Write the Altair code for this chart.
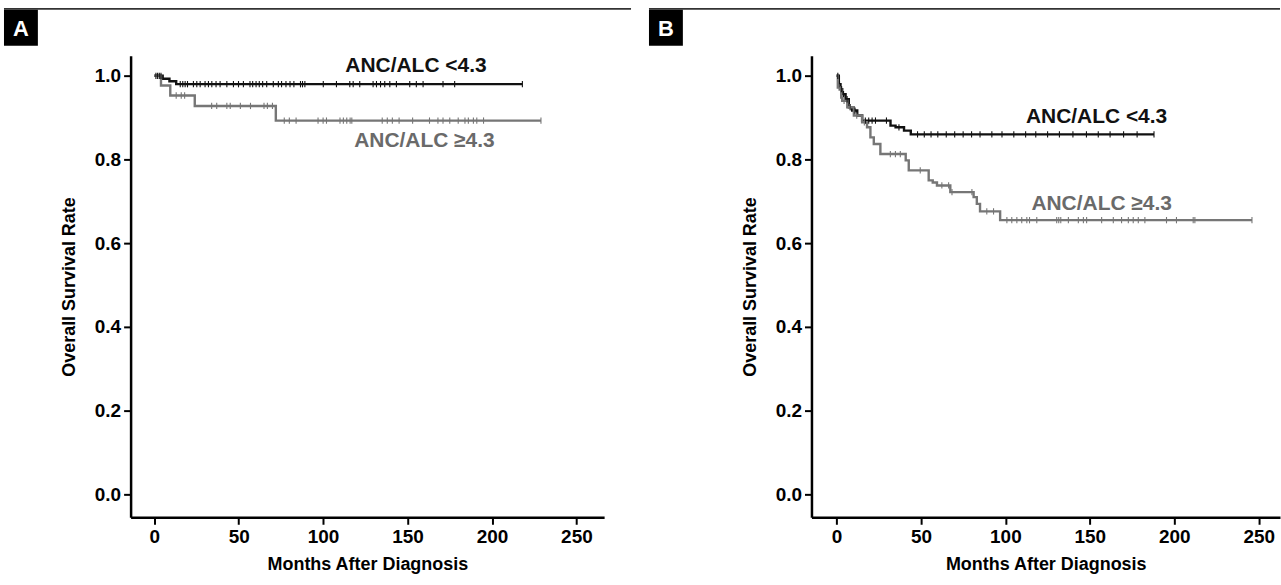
import bisect
import altair as alt
import pandas as pd

FONT = "Liberation Sans"
BLACK = "#111111"
GREY = "#767676"

# ---------------- Panel A ----------------
a_low_times = [0, 5, 9, 13]
a_low_surv = [1.0, 0.993, 0.987, 0.98]
a_low_end = 218
a_low_cens = [1, 2, 3, 4, 15.4, 16.9, 18.3, 19.7, 23.2, 25.2, 27.2, 30.1, 32.1, 34.1,
              36.6, 39.0, 43.0, 46.9, 49.9, 52.8, 56.7, 58.3, 60.3, 62.2, 64.2, 66.6,
              70.5, 73.5, 75.4, 78.0, 80.4, 82.7, 86.6, 87.8, 89.2, 100.1, 107.9, 115.8,
              117.8, 121.7, 129.6, 131.6, 134.0, 136.5, 139.5, 143.4, 151.3, 155.2,
              159.2, 171.0, 177.9, 218]

a_high_times = [0, 4, 9.5, 24, 72]
a_high_surv = [1.0, 0.977, 0.953, 0.928, 0.893]
a_high_end = 229
a_high_cens = [13, 16, 18, 34, 37, 43, 45, 51, 57, 65, 67, 70, 77, 80, 84, 97, 100,
               102, 110, 112, 114, 116, 117, 135, 138, 141, 145, 153, 163, 168, 171,
               175, 180, 184, 186, 189, 191, 195, 229]

# ---------------- Panel B ----------------
b_low_times = [0, 1.4, 2.4, 3.4, 5.4, 7.3, 9.3, 12.3, 15.2, 32, 35, 40, 44]
b_low_surv = [1.0, 0.98, 0.968, 0.956, 0.944, 0.925, 0.917, 0.905, 0.893, 0.881,
              0.877, 0.869, 0.86]
b_low_end = 188
b_low_cens = [0.8, 1.8, 2.9, 4.2, 6.3, 8.2, 11, 17.1, 19.1, 21.1, 23.1, 29.6, 37,
              48, 52, 56, 60, 65, 70, 75, 80, 85, 92, 98, 105, 112, 118, 125, 132,
              140, 148, 155, 162, 170, 178, 188]

b_high_times = [0, 0.8, 2.8, 3.4, 6.4, 10.3, 15.2, 18.1, 20.1, 22.1, 26, 41, 42.8,
                54.6, 57, 59.5, 67.4, 81.2, 83.1, 85, 96.9]
b_high_surv = [1.0, 0.972, 0.948, 0.94, 0.925, 0.905, 0.889, 0.877, 0.853, 0.837,
               0.813, 0.798, 0.774, 0.75, 0.745, 0.738, 0.722, 0.71, 0.694, 0.676,
               0.655]
b_high_end = 246
b_high_cens = [1.5, 4.5, 8, 12, 16.5, 31.9, 34.9, 37.8, 49.6, 62.4, 66.4, 68.4, 80.2,
               89, 93, 100.9, 103.8, 106.8, 109.7, 112.7, 114.3, 118.6, 130.4, 131.6,
               132.8, 137.3, 143.2, 146.2, 148.1, 157.0, 163.9, 168.8, 172.8, 175.7,
               178.7, 182.6, 195.4, 201.3, 211.2, 212.2, 246]

label_low = "ANC/ALC <4.3"
label_high = "ANC/ALC \u22654.3"
x_ticks = [0, 50, 100, 150, 200, 250]
y_ticks = [0.0, 0.2, 0.4, 0.6, 0.8, 1.0]


def surv_at(times, surv, t):
    i = bisect.bisect_right(times, t) - 1
    return surv[max(i, 0)]


def curve_df(times, surv, end, grp):
    xs = list(times) + [end]
    ys = list(surv) + [surv[-1]]
    return pd.DataFrame({"t": xs, "s": ys, "grp": grp, "o": range(len(xs))})


def cens_df(times, surv, cens, grp):
    return pd.DataFrame({"t": cens, "s": [surv_at(times, surv, c) for c in cens], "grp": grp})


color_scale = alt.Scale(domain=["low", "high"], range=[BLACK, GREY])


def panel(letter, low, high, width, xdom, lab_low_pos, lab_high_pos, box_left, rule_right):
    curves = pd.concat([curve_df(*low[:3], "low"), curve_df(*high[:3], "high")])
    cens = pd.concat([cens_df(low[0], low[1], low[3], "low"),
                      cens_df(high[0], high[1], high[3], "high")])
    xs = alt.Scale(domain=xdom, nice=False, zero=False)
    ys = alt.Scale(domain=[-0.055, 1.048], nice=False, zero=False)
    xaxis = alt.Axis(values=x_ticks, title="Months After Diagnosis", grid=False,
                     format="d")
    yaxis = alt.Axis(values=y_ticks, title="Overall Survival Rate", grid=False,
                     format=".1f")
    lines = alt.Chart(curves).mark_line(interpolate="step-after", strokeWidth=2.4).encode(
        x=alt.X("t:Q", scale=xs, axis=xaxis),
        y=alt.Y("s:Q", scale=ys, axis=yaxis),
        color=alt.Color("grp:N", scale=color_scale, legend=None),
        detail="grp:N",
        order="o:Q",
    )
    ticks = alt.Chart(cens).mark_point(shape="M0,-1L0,1", size=40, strokeWidth=1.1,
                                       filled=False, opacity=1).encode(
        x=alt.X("t:Q", scale=xs),
        y=alt.Y("s:Q", scale=ys),
        color=alt.Color("grp:N", scale=color_scale, legend=None),
    )
    one = pd.DataFrame({"a": [0]})
    t_low = alt.Chart(one).mark_text(
        text=label_low, font=FONT, fontSize=21, fontWeight="bold", color=BLACK
    ).encode(x=alt.X(datum=lab_low_pos[0], scale=xs),
             y=alt.Y(datum=lab_low_pos[1], scale=ys))
    t_high = alt.Chart(one).mark_text(
        text=label_high, font=FONT, fontSize=21, fontWeight="bold", color="#6a6a6a"
    ).encode(x=alt.X(datum=lab_high_pos[0], scale=xs),
             y=alt.Y(datum=lab_high_pos[1], scale=ys))
    rule = alt.Chart(one).mark_rule(color="#333333", strokeWidth=1.6).encode(
        x=alt.value(box_left), x2=alt.value(rule_right), y=alt.value(-47))
    box = alt.Chart(one).mark_rect(color="#000000").encode(
        x=alt.value(box_left), x2=alt.value(box_left + 34),
        y=alt.value(-46), y2=alt.value(-10))
    let = alt.Chart(one).mark_text(text=letter, font=FONT, fontSize=22, fontWeight="bold",
                                    color="white", align="center", baseline="middle").encode(
        x=alt.value(box_left + 17), y=alt.value(-27))
    return alt.layer(lines, ticks, t_low, t_high, rule, box, let).properties(
        width=width, height=463)


# Panel A: plot area starts 130 px from the left edge, panel rule ends at 632
pA = panel("A",
           (a_low_times, a_low_surv, a_low_end, a_low_cens),
           (a_high_times, a_high_surv, a_high_end, a_high_cens),
           475, [-14, 266.4], (155, 1.024), (160, 0.845), -127, 502)
# Panel B: box at 648, plot area from 811 to the right edge
pB = panel("B",
           (b_low_times, b_low_surv, b_low_end, b_low_cens),
           (b_high_times, b_high_surv, b_high_end, b_high_cens),
           470, [-14.8, 262.6], (154, 0.902), (157, 0.694), -163, 470)

chart = alt.hconcat(pA, pB, spacing=16).properties(
    padding={"left": 3, "top": 7, "right": 0, "bottom": 0}
).configure_view(stroke=None).configure_axis(
    domainColor="#000000", domainWidth=2.5, tickColor="#000000", tickWidth=2,
    tickSize=7, labelFont=FONT, labelFontSize=19, labelFontWeight="bold",
    labelColor="#000000", labelPadding=3, titleFont=FONT, titleFontSize=18,
    titleFontWeight="bold", titleColor="#000000"
).configure_axisY(titlePadding=16).configure_axisX(titlePadding=9)

chart.save("out.html", embed_options={"renderer": "svg", "actions": False})
